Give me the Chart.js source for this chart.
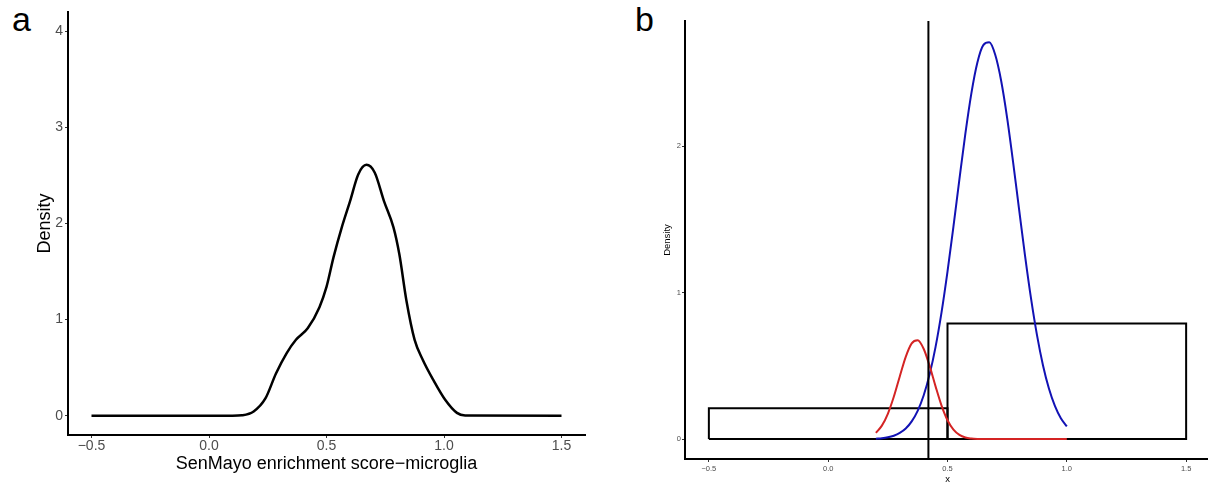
<!DOCTYPE html>
<html>
<head>
<meta charset="utf-8">
<script src="https://cdn.jsdelivr.net/npm/chart.js@4.4.1/dist/chart.umd.min.js"></script>
<style>
  html, body { margin: 0; padding: 0; background: #fff; overflow: hidden; width: 1208px; height: 486px; }
  .panel { position: absolute; top: 0; height: 486px; }
  .tag { position: absolute; top: 2px; font: 34px "Liberation Sans", Arial, sans-serif; line-height: 1; color: #000; }
</style>
</head>
<body>
<div class="tag" style="left:12px">a</div>
<div class="tag" style="left:635px">b</div>
<div class="panel" style="left:0;width:600px"><canvas id="chartA" width="600" height="486"></canvas></div>
<div class="panel" style="left:620px;width:600px"><canvas id="chartB" width="600" height="486"></canvas></div>
<script>
// panel a: density of SenMayo score
const scoreX = [-0.5, 0.10, 0.14, 0.19, 0.24, 0.285, 0.33, 0.37, 0.42, 0.47, 0.50, 0.53, 0.565, 0.60, 0.635, 0.67, 0.705, 0.745, 0.785, 0.81, 0.84, 0.875, 0.91, 0.955, 1.005, 1.055, 1.09, 1.5];
const scoreDensity = [0, 0, 0.005, 0.045, 0.18, 0.44, 0.65, 0.79, 0.91, 1.13, 1.34, 1.65, 1.96, 2.23, 2.51, 2.61, 2.53, 2.23, 1.96, 1.68, 1.20, 0.79, 0.58, 0.37, 0.166, 0.03, 0.003, 0];
const ticksXA = [-0.5, 0, 0.5, 1, 1.5];
const ticksYA = [0, 1, 2, 3, 4];

// panel b: two fitted components, cut point and boxes
const compX = [0.2, 0.225, 0.25, 0.275, 0.3, 0.325, 0.35, 0.375, 0.4, 0.425, 0.45, 0.475, 0.5, 0.525, 0.55, 0.575, 0.6, 0.625, 0.65, 0.675, 0.7, 0.725, 0.75, 0.775, 0.8, 0.825, 0.85, 0.875, 0.9, 0.925, 0.95, 0.975, 1.0];
const blueY = [0.003, 0.006, 0.012, 0.023, 0.042, 0.072, 0.121, 0.193, 0.298, 0.442, 0.630, 0.866, 1.144, 1.453, 1.776, 2.088, 2.362, 2.571, 2.691, 2.710, 2.625, 2.446, 2.193, 1.891, 1.569, 1.252, 0.961, 0.710, 0.505, 0.345, 0.227, 0.143, 0.087];
const redY = [0.043, 0.092, 0.173, 0.289, 0.428, 0.562, 0.654, 0.675, 0.617, 0.500, 0.360, 0.229, 0.129, 0.065, 0.029, 0.011, 0.004, 0.001, 0, 0, 0, 0, 0, 0, 0, 0, 0, 0, 0, 0, 0, 0, 0];
const cutX = 0.42;
const boxXmin = [-0.5, 0.5];
const boxXmax = [0.5, 1.5];
const boxYmax = [0.21, 0.79];
const ticksXB = [-0.5, 0, 0.5, 1, 1.5];
const ticksYB = [0, 1, 2];
const yLimB = [-0.136, 2.856];

const fmt = v => (v < 0 ? '\u2212' : '') + Math.abs(v).toFixed(1);
const FONT = '"Liberation Sans", Arial, sans-serif';

function axis(opts) {
    return {
        type: 'linear',
        min: opts.min, max: opts.max,
        afterBuildTicks: s => { s.ticks = opts.ticks.map(v => ({value: v})); },
        afterFit: s => { if (opts.w != null) s.width = opts.w; if (opts.h != null) s.height = opts.h; },
        grid: {drawOnChartArea: false, drawTicks: true, tickLength: 3, color: '#333', lineWidth: 1},
        border: {display: true, color: '#000', width: 2},
        ticks: {
            color: '#4d4d4d', padding: opts.pad, maxRotation: 0, autoSkip: false,
            font: {family: FONT, size: opts.tickSize},
            callback: opts.fmt
        },
        title: {
            display: true, text: opts.title, color: '#000',
            font: {family: FONT, size: opts.titleSize},
            padding: opts.titlePad
        }
    };
}

const line = (data, color, width, smooth) => ({
    data: data, borderColor: color, borderWidth: width, pointRadius: 0,
    fill: false, tension: 0, borderJoinStyle: 'miter',
    cubicInterpolationMode: smooth ? 'monotone' : 'default'
});

new Chart('chartA', {
    type: 'line',
    data: {
        datasets: [line(scoreX.map((x, i) => ({x: x, y: scoreDensity[i]})), '#000', 2.5, true)]
    },
    options: {
        responsive: false, animation: false, parsing: false,
        layout: {padding: {top: 12, right: 15, left: 0, bottom: 0}},
        plugins: {legend: {display: false}, tooltip: {enabled: false}},
        scales: {
            x: axis({min: -0.6, max: 1.6, ticks: ticksXA, h: 51, pad: 0, tickSize: 14, fmt: v => fmt(v),
                title: 'SenMayo enrichment score\u2212microglia', titleSize: 18, titlePad: {top: 0, bottom: 11}}),
            y: axis({min: -0.2, max: 4.2, ticks: ticksYA, w: 68, pad: 2, tickSize: 14, fmt: v => String(v),
                title: 'Density', titleSize: 18, titlePad: {top: 34, bottom: 0}})
        }
    }
});

// boxes as closed outlines
const boxes = boxXmin.map((x0, i) => [
    {x: x0, y: 0}, {x: x0, y: boxYmax[i]}, {x: boxXmax[i], y: boxYmax[i]}, {x: boxXmax[i], y: 0}, {x: x0, y: 0}
]);

new Chart('chartB', {
    type: 'line',
    data: {
        datasets: [
            line([{x: cutX, y: yLimB[0]}, {x: cutX, y: yLimB[1]}], '#000', 2, false),
            line(compX.map((x, i) => ({x: x, y: redY[i]})), '#d42424', 2, true),
            line(compX.map((x, i) => ({x: x, y: blueY[i]})), '#1212b4', 2, true),
            line(boxes[1], '#000', 2, false),
            line(boxes[0], '#000', 2, false)
        ]
    },
    options: {
        responsive: false, animation: false, parsing: false,
        layout: {padding: {top: 21, right: 10, left: 0, bottom: 0}},
        plugins: {legend: {display: false}, tooltip: {enabled: false}},
        scales: {
            x: axis({min: -0.6, max: 1.6, ticks: ticksXB, h: 27, pad: 2, tickSize: 7.5, fmt: v => fmt(v),
                title: 'x', titleSize: 9.5, titlePad: {top: 0, bottom: 1}}),
            y: axis({min: yLimB[0], max: yLimB[1], ticks: ticksYB, w: 65, pad: 1, tickSize: 7.5, fmt: v => String(v),
                title: 'Density', titleSize: 9.5, titlePad: {top: 42, bottom: 0}})
        }
    }
});
</script>
</body>
</html>
